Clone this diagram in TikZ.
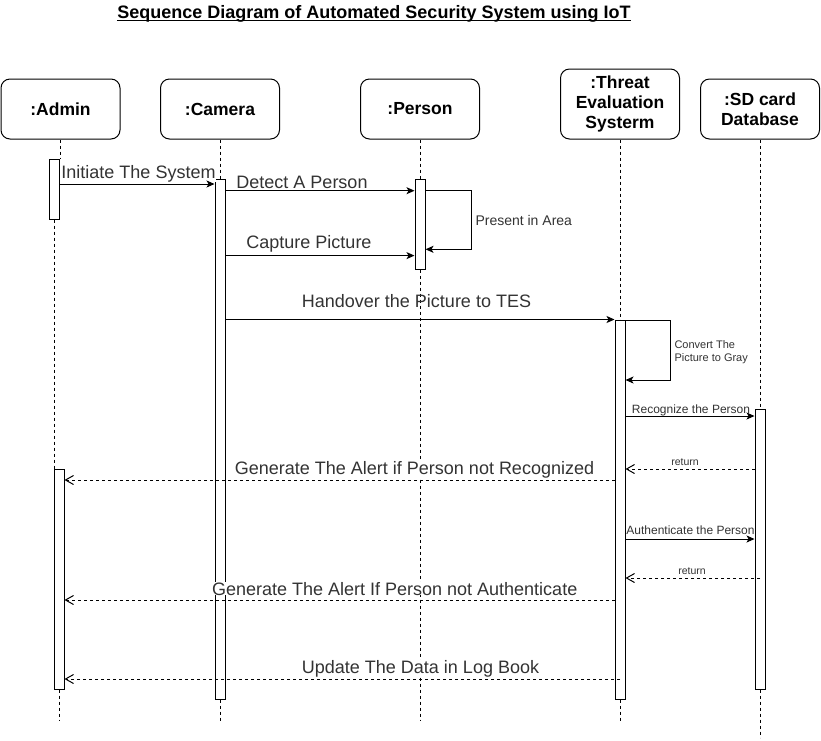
\documentclass[tikz,border=0pt]{standalone}
\usepackage{fontspec}
\setmainfont{Liberation Sans}
\usetikzlibrary{arrows.meta}
\begin{document}
\begin{tikzpicture}[
                x=1pt, y=-1pt,
                line width=1pt,
                head/.style={draw, rounded corners=9pt, minimum width=119pt, minimum height=60pt,
                    align=center, font=\bfseries\fontsize{17.5}{20.3}\selectfont},
                bar/.style={draw, fill=white, minimum width=10pt, inner sep=0pt},
                lifeline/.style={dash pattern=on 3pt off 3pt},
                msg/.style={-{Stealth[length=8pt,width=7pt,inset=2pt]}},
                reply/.style={dash pattern=on 3pt off 3pt, -{Straight Barb[length=8pt,width=9pt]}},
                msglabel/.style={font=\fontsize{18}{20}\selectfont, text=black!80, anchor=base, inner sep=0pt, fill=white},
                notelabel/.style={font=\fontsize{12}{14}\selectfont, text=black!80, anchor=base, inner sep=0pt},
            ]
            \useasboundingbox (0,0) rectangle (821,740);
            \node[font=\bfseries\fontsize{18}{20}\selectfont, anchor=base, inner sep=0pt] (title) at (374,18.3)
                {Sequence Diagram of Automated Security System using IoT};
            \draw[line width=1.2pt] ([yshift=-2.4pt]title.base west) -- ([yshift=-2.4pt]title.base east);

            \node[head] (admin) at (60.5,109) {:Admin};
            \node[head] (camera) at (220,109) {:Camera};
            \node[head] (person) at (420,109) {:Person};
            \node[head, minimum height=70pt] (tes) at (620,104) {:Threat\\Evaluation\\Systerm};
            \node[head] (sdcard) at (760,109) {:SD card\\Database};

            \node[bar, minimum height=60pt] (admBar1) at (54,189) {};
            \node[bar, minimum height=220pt] (admBar2) at (59,579) {};
            \node[bar, minimum height=520pt] (camBar) at (220,439) {};
            \node[bar, minimum height=90pt] (perBar) at (420,224) {};
            \node[bar, minimum height=379pt] (tesBar) at (620,509.5) {};
            \node[bar, minimum height=280pt] (sdBar) at (760,549) {};

            \draw[lifeline] (admin.south) -- (admin.south |- admBar1.north)
                (admBar1.south) -- (admBar1.south |- admBar2.north)
                (admBar2.south) -- ++(0,31);
            \draw[lifeline] (camera.south) -- (camBar.north) (camBar.south) -- ++(0,21);
            \draw[lifeline] (person.south) -- (perBar.north) (perBar.south) -- ++(0,451);
            \draw[lifeline] (tes.south) -- (tesBar.north) (tesBar.south) -- ++(0,21);
            \draw[lifeline] (sdcard.south) -- (sdBar.north) (sdBar.south) -- ++(0,48);

            \node[msglabel] (lInit) at (138.5,178) {Initiate The System};
            \node[msglabel] (lDetect) at (302,188) {Detect A Person};
            \node[msglabel] (lCapture) at (309,248) {Capture Picture};
            \node[msglabel, fill=none] (lHand) at (416.5,307.7) {Handover the Picture to TES};
            \node[msglabel] (lAlert1) at (414.5,474) {Generate The Alert if Person not Recognized};
            \node[msglabel] (lAlert2) at (394.7,595) {Generate The Alert If Person not Authenticate};
            \node[msglabel] (lUpdate) at (420.5,673) {Update The Data in Log Book};
            \node[notelabel, anchor=base west, font=\fontsize{14}{16}\selectfont] (lPresent) at (475,225.7) {Present in Area};
            \node[notelabel, anchor=north west, align=left, font=\fontsize{11}{13}\selectfont] (lGray) at (674,340)
                {Convert The\\Picture to Gray};
            \node[notelabel] (lRecog) at (691,413.3) {Recognize the Person};
            \node[notelabel, font=\fontsize{10.5}{12}\selectfont] (lRet1) at (685,465) {return};
            \node[notelabel] (lAuth) at (690.5,534.3) {Authenticate the Person};
            \node[notelabel, font=\fontsize{10.5}{12}\selectfont] (lRet2) at (692,574) {return};

            \draw[msg] (admBar1.east |- 0,184) -- (camBar.west |- 0,184);
            \draw[msg] (camBar.east |- 0,190.7) -- (perBar.west |- 0,190.7);
            \draw[msg] (perBar.east |- 0,190.7) -- ++(46,0) |- (perBar.east |- 0,249.3);
            \draw[msg] (camBar.east |- 0,255.6) -- (perBar.west |- 0,255.6);
            \draw[msg] (camBar.east |- 0,319.5) -- (tesBar.north west);
            \draw[msg] (tesBar.east |- 0,320.7) -- ++(45,0) |- (tesBar.east |- 0,380);
            \draw[msg] (tesBar.east |- 0,416) -- (sdBar.west |- 0,416);
            \draw[reply] (sdBar.west |- 0,469) -- (tesBar.east |- 0,469);
            \draw[reply] (tesBar.west |- 0,480) -- (admBar2.east |- 0,480);
            \draw[msg] (tesBar.east |- 0,539) -- (sdBar.west |- 0,539);
            \draw[reply] (sdBar |- 0,578) -- (tesBar.east |- 0,578);
            \draw[reply] (tesBar.west |- 0,600) -- (admBar2.east |- 0,600);
            \draw[reply] (tesBar |- 0,679) -- (admBar2.east |- 0,679);
            \end{tikzpicture}
\end{document}
